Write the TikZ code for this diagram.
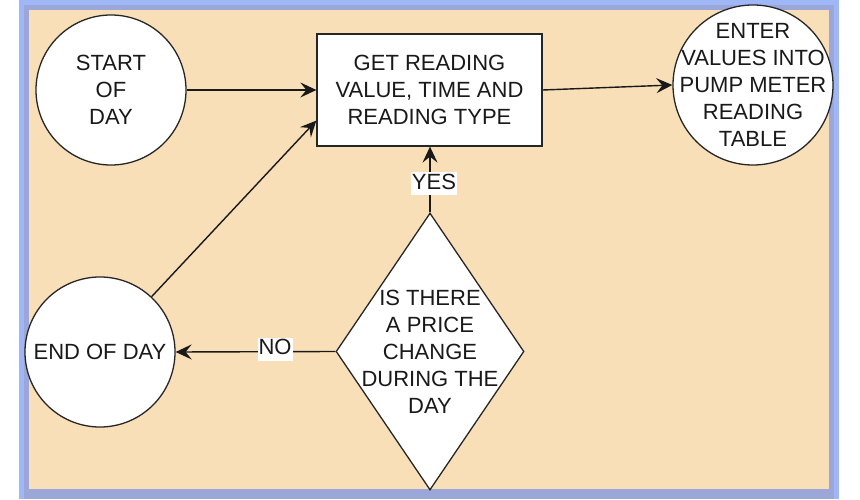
\documentclass[tikz,border=0pt]{standalone}
\usepackage{fontspec}
\setmainfont{Liberation Sans}
\usetikzlibrary{shapes.geometric,arrows.meta,calc}
\definecolor{peach}{HTML}{F8DFB8}
\definecolor{blueA}{HTML}{A0B7F7}
\definecolor{blueB}{HTML}{9CA7D9}
\begin{document}
\begin{tikzpicture}[x=1pt,y=-1pt,
  txt/.style={font=\fontsize{22}{27}\selectfont, align=center, text=black!90},
  shp/.style={draw=black!85, line width=1.3pt, fill=white},
  arr/.style={line width=1.4pt, draw=black!90, -{Stealth[length=16pt,width=15pt,inset=6pt]}},
  lbl/.style={txt, fill=white, inner xsep=1pt, inner ysep=0pt, text height=17pt, text depth=6pt}]
\useasboundingbox (0,0) rectangle (860,500);
\fill[blueA] (19,0) rectangle (839,499);
\fill[blueB] (24,5) rectangle (834,499);
\fill[peach] (29,10) rectangle (829,489);
\node[shp, circle, minimum size=150pt, inner sep=0pt, txt] (start) at (111,90) {START\\OF\\DAY};
\node[shp, rectangle, minimum width=225pt, minimum height=112pt, txt] (read) at (429.5,90) {GET READING\\VALUE, TIME AND\\READING TYPE};
\node[shp, circle, minimum size=160pt, inner sep=0pt] (enter) at (753,85) {};
\node[txt] (entert) at (enter.center) {ENTER\\VALUES INTO\\PUMP METER\\READING\\TABLE};
\node[shp, circle, minimum size=150pt, inner sep=0pt, txt] (end) at (100,352) {END OF DAY};
\node[shp, diamond, minimum width=188pt, minimum height=277pt, inner sep=0pt] (dec) at (430,351.5) {};
\node[txt] (dect) at (dec.center) {IS THERE\\A PRICE\\CHANGE\\DURING THE\\DAY};
\draw[arr] (start) -- (start -| read.west);
\draw[arr] (end.47) -- ($(read.south west)!0.23!(read.north west)$);
\draw[arr] (dec.north) -- (dec.north |- read.south);
\draw[arr] (dec.west) -- (end.east);
\draw[arr] (read.east) -- (enter.west);
\node[lbl] (yes) at (434,184) {YES};
\node[lbl] (no) at (275,349) {NO};
\end{tikzpicture}
\end{document}
